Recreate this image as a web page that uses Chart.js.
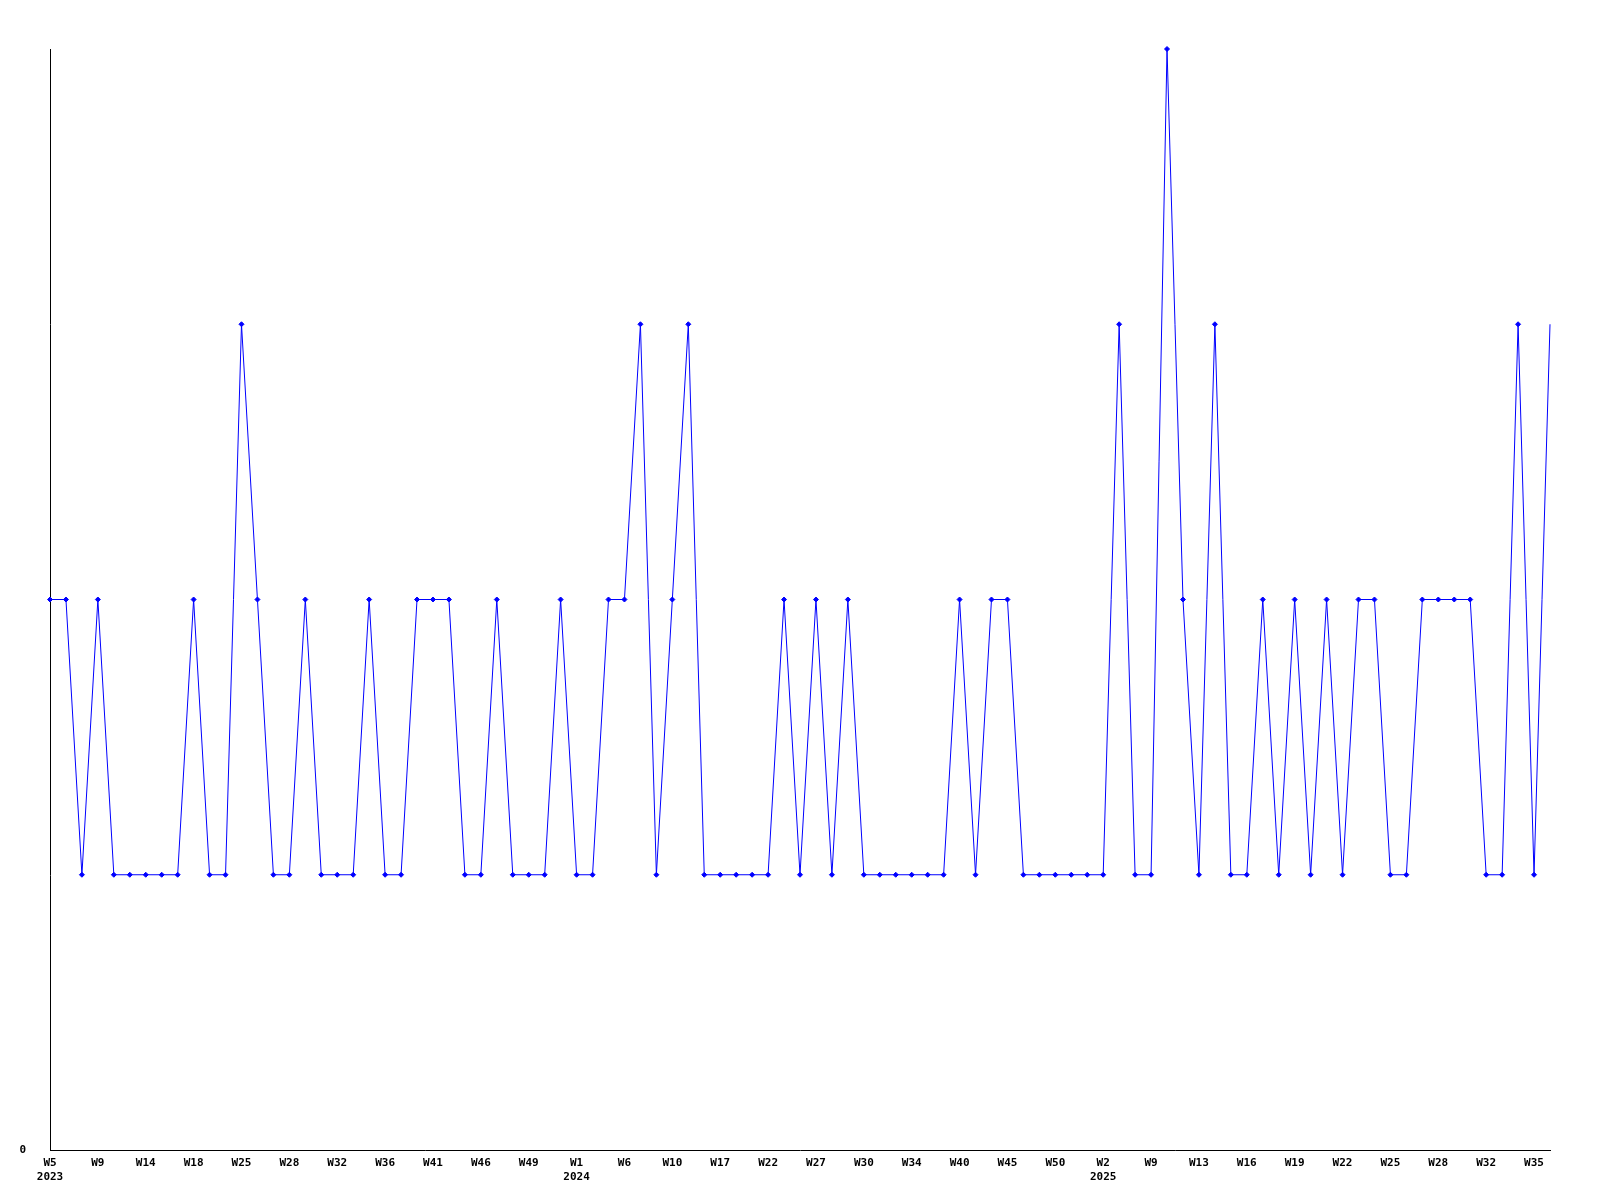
<!DOCTYPE html>
<html>
<head>
<meta charset="utf-8">
<script src="https://cdn.jsdelivr.net/npm/chart.js@4"></script>
<style>
  html, body { margin: 0; padding: 0; background: #fff; }
  #chart { display: block; }
</style>
</head>
<body>
<canvas id="chart" width="1600" height="1200"></canvas>
<script>
// week labels shown under every 3rd point
const tickLabels = [
    ['W5', '2023'], 'W9', 'W14', 'W18', 'W25', 'W28', 'W32', 'W36', 'W41', 'W46', 'W49',
    ['W1', '2024'], 'W6', 'W10', 'W17', 'W22', 'W27', 'W30', 'W34', 'W40', 'W45', 'W50',
    ['W2', '2025'], 'W9', 'W13', 'W16', 'W19', 'W22', 'W25', 'W28', 'W32', 'W35'
];

// one value per week
const values2023 = [2, 2, 1, 2, 1, 1, 1, 1, 1, 2, 1, 1, 3, 2, 1, 1, 2, 1, 1, 1, 2, 1, 1, 2, 2, 2, 1, 1, 2, 1, 1, 1, 2];
const values2024 = [1, 1, 2, 2, 3, 1, 2, 3, 1, 1, 1, 1, 1, 2, 1, 2, 1, 2, 1, 1, 1, 1, 1, 1, 2, 1, 2, 2, 1, 1, 1, 1, 1];
const values2025 = [1, 3, 1, 1, 4, 2, 1, 3, 1, 1, 2, 1, 2, 1, 2, 1, 2, 2, 1, 1, 2, 2, 2, 2, 1, 1, 3, 1, 3];

const values = values2023.concat(values2024, values2025);
const TICK_EVERY = 3;
const labels = values.map((v, i) => (i % TICK_EVERY === 0 ? tickLabels[i / TICK_EVERY] : ''));
// the last point has no marker in the original
const radii = values.map((v, i) => (i === values.length - 1 ? 0 : 2.5));

const axisFont = { family: 'DejaVu Sans Mono', size: 11, weight: 'bold' };

const ctx = document.getElementById('chart').getContext('2d');
new Chart(ctx, {
    type: 'line',
    data: {
        labels: labels,
        datasets: [{
            data: values,
            borderColor: '#0000ff',
            backgroundColor: '#0000ff',
            borderWidth: 1,
            tension: 0,
            clip: false,
            pointStyle: 'rectRot',
            pointRadius: radii,
            pointBorderWidth: 1,
            pointBorderColor: '#0000ff',
            pointBackgroundColor: '#0000ff'
        }]
    },
    options: {
        responsive: false,
        animation: false,
        layout: { padding: { top: 49, right: 50, left: 0, bottom: 0 } },
        plugins: { legend: { display: false }, tooltip: { enabled: false } },
        scales: {
            x: {
                offset: false,
                grid: { display: false, drawTicks: false },
                border: { display: true, color: '#000', width: 1 },
                ticks: {
                    autoSkip: false,
                    maxRotation: 0,
                    padding: 7,
                    color: '#000',
                    font: axisFont,
                    callback: function(value, index) { return labels[index]; }
                },
                afterFit: s => { s.height = 50; }
            },
            y: {
                min: 0,
                max: 4,
                grid: { display: false, drawTicks: false },
                border: { display: true, color: '#000', width: 1 },
                ticks: {
                    stepSize: 4,
                    padding: 24,
                    color: '#000',
                    font: axisFont,
                    callback: v => (v === 0 ? '0' : '')
                },
                afterFit: s => { s.width = 50; }
            }
        }
    }
});
</script>
</body>
</html>
